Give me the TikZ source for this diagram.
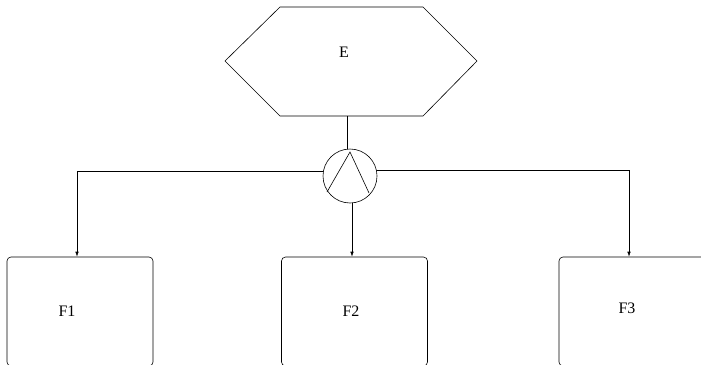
\documentclass[tikz,border=0pt]{standalone}
\usepackage{fontspec}
\setmainfont{Liberation Serif}
\usetikzlibrary{arrows.meta,calc}
\begin{document}
\begin{tikzpicture}[x=1pt,y=1pt,
  ln/.style={line width=0.6pt,black},
  arr/.style={ln,-{Latex[length=5pt,width=3.5pt]}},
  fbox/.style={draw,line width=0.6pt,rounded corners=4pt,minimum width=146pt,minimum height=109pt,inner sep=0pt},
  lbl/.style={font=\fontsize{16}{18}\selectfont,inner sep=0pt},
  gate/.style={draw,line width=0.6pt,circle,minimum size=54pt,inner sep=0pt}]
\useasboundingbox (0,0) rectangle (701,-364);
\clip (0,0) rectangle (701,-364);
% hexagon E
\draw[ln] (225,-61) -- (280,-7) -- (423,-7) -- (477,-61) -- (423,-116) -- (280,-116) -- cycle;
\node[lbl,anchor=base] (e) at (344,-57) {E};
\coordinate (ebot) at (347.5,-116);
% gate
\node[gate] (g) at (350,-176) {};
\draw[ln] (327,-192) -- (350,-152) -- (369,-193);
% boxes
\node[fbox] (f1) at (80,-311.5) {};
\node[fbox] (f2) at (354.5,-311.5) {};
\node[fbox] (f3) at (632,-311.5) {};
\node[lbl,anchor=base] (t1) at (67,-316) {F1};
\node[lbl,anchor=base] (t2) at (351,-316) {F2};
\node[lbl,anchor=base] (t3) at (627,-313) {F3};
% connectors
\draw[ln] (ebot) -- (ebot |- g.north);
\draw[arr] (g.171) -| ([xshift=-3pt]f1.north);
\draw[arr] (g.13) -| ([xshift=-3pt]f3.north);
\draw[arr] ([xshift=2pt]g.south) -- ([xshift=2pt]g.south |- f2.north);
\end{tikzpicture}
\end{document}
